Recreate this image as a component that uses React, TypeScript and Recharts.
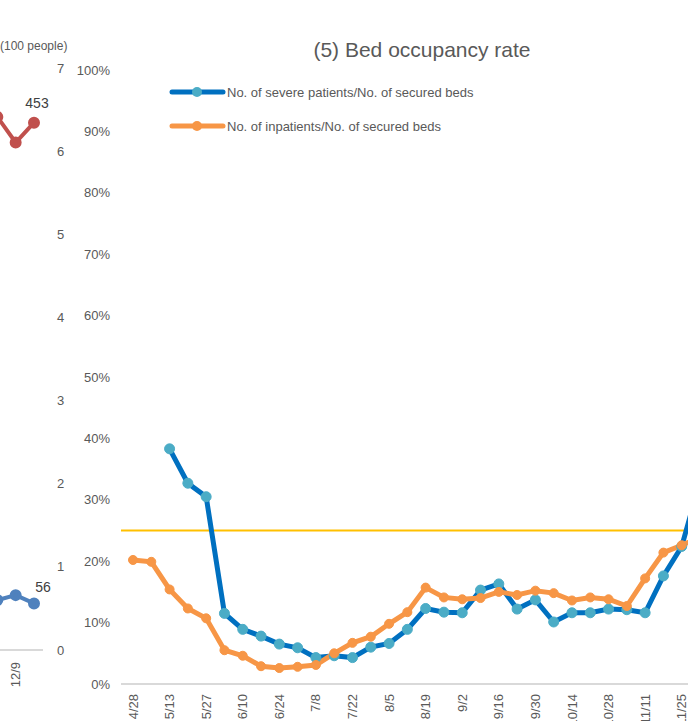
import { LineChart, Line, XAxis, YAxis, ReferenceLine, LabelList } from 'recharts';

// (5) bed occupancy, weekly
const dates = ['4/28', '5/6', '5/13', '5/20', '5/27', '6/3', '6/10', '6/17', '6/24', '7/1', '7/8', '7/15', '7/22', '7/29', '8/5', '8/12',
  '8/19', '8/26', '9/2', '9/9', '9/16', '9/23', '9/30', '10/7', '10/14', '10/21', '10/28', '11/4', '11/11', '11/18', '11/25', '12/2'];
const severeRate = [null, null, 38.3, 32.7, 30.5, 11.5, 8.9, 7.8, 6.5, 5.9, 4.3, 4.6, 4.3, 6.0, 6.6, 8.9,
  12.3, 11.7, 11.6, 15.3, 16.3, 12.2, 13.7, 10.1, 11.6, 11.6, 12.2, 12.1, 11.6, 17.6, 22.4, 33];
const inpatientRate = [20.2, 19.9, 15.4, 12.3, 10.7, 5.5, 4.6, 2.9, 2.6, 2.8, 3.1, 5.0, 6.7, 7.7, 9.8, 11.7,
  15.7, 14.1, 13.8, 14.0, 15.0, 14.5, 15.2, 14.8, 13.6, 14.1, 13.8, 12.7, 17.2, 21.4, 22.6, 23.9];
const pctTicks = [0, 10, 20, 30, 40, 50, 60, 70, 80, 90, 100];
const guideLevel = 25;

// neighbouring chart, only its right edge shows
const prevDates = ['11/25', '12/2', '12/9', '12/16'];
const prevRed = [430, 458, 436, 453];
const prevBlue = [0.55, 0.6, 0.66, 0.56];
const peopleTicks = [0, 1, 2, 3, 4, 5, 6, 7];

const GREY = '#595959';
const FONT = '"Liberation Sans", Arial, sans-serif';

const series = [
  { key: 'severe', name: 'No. of severe patients/No. of secured beds', color: '#0070C0', dot: '#4BACC6' },
  { key: 'inpatients', name: 'No. of inpatients/No. of secured beds', color: '#F79646', dot: '#F79646' },
];

const bedData = dates.map((d, i) => ({ date: d, severe: severeRate[i], inpatients: inpatientRate[i] }));
const prevData = prevDates.map((d, i) => ({ date: d, red: prevRed[i], blue: prevBlue[i] }));

function DateTick({ x, y, payload, shift }: any) {
  return (
    <g transform={`translate(${x},${y})`}>
      <text transform="rotate(-90)" x={shift} dy="0.35em" textAnchor="end" fill={GREY} fontSize={13} fontFamily={FONT}>
        {payload.value}
      </text>
    </g>
  );
}

function lastLabel(dx: number, dy: number) {
  return (props: any) => {
    const { x, y, value, index } = props;
    if (index !== prevDates.length - 1) return null;
    return (
      <text x={x + dx} y={y + dy} textAnchor="middle" dominantBaseline="middle" fill="#404040" fontSize={14} fontFamily={FONT}>
        {value < 1 ? Math.round(value * 100) : value}
      </text>
    );
  };
}

export default function App() {
  return (
    <div style={{ position: 'fixed', left: 0, top: 0, width: 688, height: 721, overflow: 'hidden', background: '#fff', fontFamily: FONT }}>
      <div style={{ position: 'absolute', left: -77, top: 0 }}>
        <LineChart width={150} height={721} data={prevData} margin={{ top: 68, right: 0, bottom: 0, left: 0 }}>
          <XAxis dataKey="date" interval={1} height={71} padding={{ left: 56, right: 9 }}
            axisLine={{ stroke: '#D9D9D9', strokeWidth: 2 }} tickLine={false}
            tick={<DateTick shift={-4} />} />
          <YAxis yAxisId="left" hide domain={[0, 500]} />
          <YAxis yAxisId="right" orientation="right" width={30} domain={[0, 7]} ticks={peopleTicks}
            axisLine={false} tickLine={false} tickMargin={8} tick={{ fill: GREY, fontSize: 13, fontFamily: FONT }} />
          <Line yAxisId="left" dataKey="red" stroke="#C0504D" strokeWidth={4} isAnimationActive={false}
            dot={{ r: 4, fill: '#C0504D', stroke: '#C0504D' }}>
            <LabelList dataKey="red" content={lastLabel(3, -18)} />
          </Line>
          <Line yAxisId="right" dataKey="blue" stroke="#4F81BD" strokeWidth={4} isAnimationActive={false}
            dot={{ r: 4, fill: '#4F81BD', stroke: '#4F81BD' }}>
            <LabelList dataKey="blue" content={lastLabel(9, -15)} />
          </Line>
        </LineChart>
      </div>
      <div style={{ position: 'absolute', left: 0, top: 39, fontSize: 12, color: GREY }}>(100 people)</div>

      <div style={{ position: 'absolute', left: 0, top: 0 }}>
        <LineChart width={710} height={740} data={bedData} margin={{ top: 70, right: 0, bottom: 0, left: 0 }}>
          <XAxis dataKey="date" interval={1} height={56} padding={{ left: 12, right: 10 }}
            axisLine={{ stroke: '#D9D9D9', strokeWidth: 2 }} tickLine={false}
            tick={<DateTick shift={-2} />} />
          <YAxis width={121} domain={[0, 100]} ticks={pctTicks} tickFormatter={(v) => `${v}%`}
            axisLine={false} tickLine={false} tickMargin={5} tick={{ fill: GREY, fontSize: 13, fontFamily: FONT }} />
          <ReferenceLine y={guideLevel} stroke="#FFC000" strokeWidth={2} />
          {series.map((s) => (
            <Line key={s.key} dataKey={s.key} stroke={s.color} strokeWidth={5} isAnimationActive={false}
              dot={{ r: s.key === 'severe' ? 5 : 4.5, fill: s.dot, stroke: s.dot, strokeWidth: 1 }} />
          ))}
        </LineChart>
      </div>

      <div style={{ position: 'absolute', left: 222, top: 37, width: 400, textAlign: 'center', fontSize: 21, lineHeight: '26px', color: GREY }}>
        (5) Bed occupancy rate
      </div>
      {series.map((s, i) => (
        <div key={s.key} style={{ position: 'absolute', left: 168, top: 84 + i * 34, height: 16, display: 'flex', alignItems: 'center' }}>
          <svg width={58} height={16}>
            <line x1={4} y1={8} x2={55} y2={8} stroke={s.color} strokeWidth={5} strokeLinecap="round" />
            <circle cx={29} cy={8} r={5} fill={s.dot} />
          </svg>
          <span style={{ fontSize: 13, color: GREY, marginLeft: 1 }}>{s.name}</span>
        </div>
      ))}
    </div>
  );
}
